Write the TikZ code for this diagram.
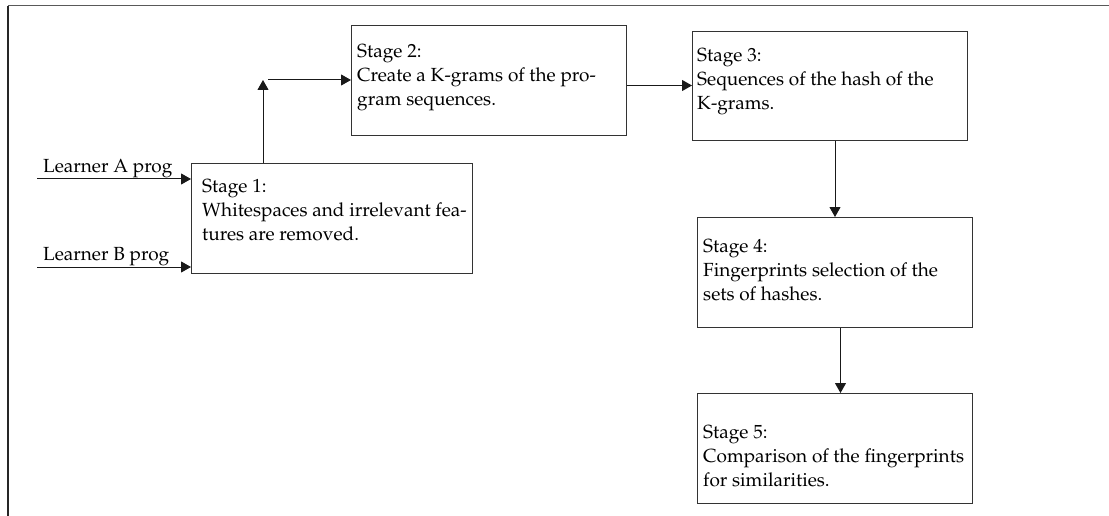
\documentclass[tikz,border=0pt]{standalone}
\usepackage[T1]{fontenc}
\usepackage{mathpazo}
\usetikzlibrary{arrows.meta}
\begin{document}
\begin{tikzpicture}[x=1pt,y=-1pt,
  stagebox/.style={draw=black!80, line width=1pt, anchor=north west, inner sep=0pt},
  stagetext/.style={anchor=north west, inner sep=0pt, align=left, font=\fontsize{19}{24}\selectfont},
  inlabel/.style={anchor=base west, inner sep=0pt, font=\fontsize{19}{24}\selectfont},
  flow/.style={-{Triangle[length=10pt,width=11pt]}, line width=1pt, draw=black!90},
]
\useasboundingbox (0,0) rectangle (1109,516);

% frame
\draw[black!85, line width=1.3pt] (8,516) -- (8,6);
\draw[black!65, line width=1pt] (8,6) -- (1109,6);

% stage boxes
\node[stagebox, minimum width=281pt, minimum height=110pt] (s1) at (191,163) {};
\node[stagebox, minimum width=275pt, minimum height=110pt] (s2) at (351,25) {};
\node[stagebox, minimum width=275pt, minimum height=109pt] (s3) at (692,31) {};
\node[stagebox, minimum width=275pt, minimum height=110pt] (s4) at (697,217) {};
\node[stagebox, minimum width=275pt, minimum height=110pt] (s5) at (697,393) {};

% stage texts
\node[stagetext] (t1) at (202,179) {Stage 1:\\Whitespaces and irrelevant fea-\\tures are removed.};
\node[stagetext] (t2) at (357,44) {Stage 2:\\Create a K-grams of the pro-\\gram sequences.};
\node[stagetext] (t3) at (697,48) {Stage 3:\\Sequences of the hash of the\\K-grams.};
\node[stagetext] (t4) at (703,239) {Stage 4:\\Fingerprints selection of the\\sets of hashes.};
\node[stagetext] (t5) at (703,425) {Stage 5:\\Comparison of the fingerprints\\for similarities.};

% inputs
\node[inlabel] (la) at (43,172) {Learner A prog};
\node[inlabel] (lb) at (43,260) {Learner B prog};
\coordinate (inA) at (37,179);
\coordinate (inB) at (37,267);
\draw[flow] (inA) -- (inA -| s1.west);
\draw[flow] (inB) -- (inB -| s1.west);

% stage 1 to stage 2
\coordinate (bend) at (263,80);
\draw[flow] (bend |- s1.north) -- (bend);
\draw[flow] ([xshift=5pt]bend) -- (bend -| s2.west);

% stage 2 to stage 3
\draw[flow] ([yshift=-5pt]s2.east) -- ([yshift=-5pt]s2.east -| s3.west);

% stage 3 to stage 4, stage 4 to stage 5
\draw[flow] (s4.north |- s3.south) -- (s4.north);
\draw[flow] ([xshift=5.5pt]s4.south) -- ([xshift=5.5pt]s5.north);
\end{tikzpicture}
\end{document}
